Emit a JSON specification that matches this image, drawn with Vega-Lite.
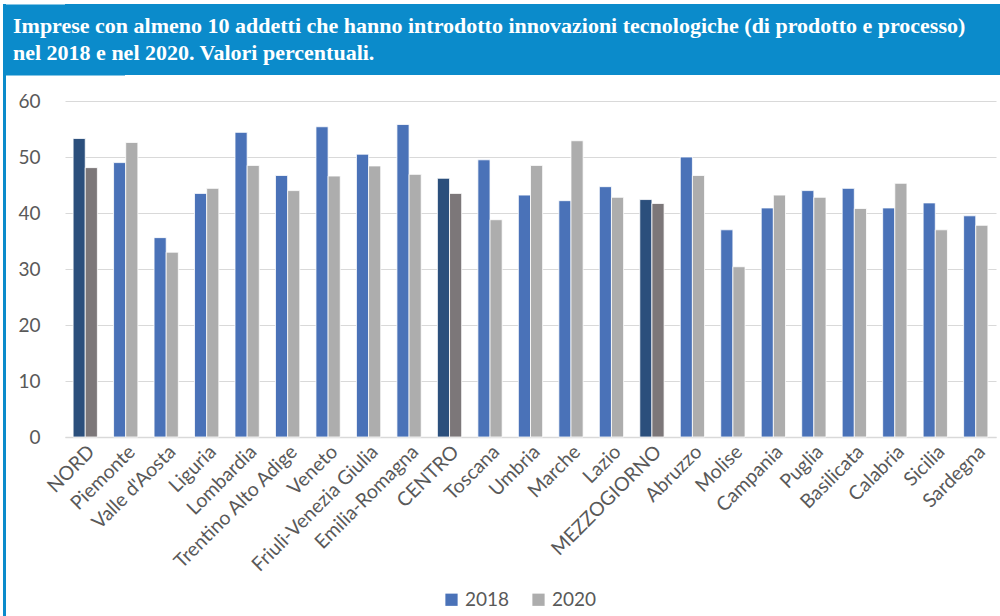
{
  "$schema": "https://vega.github.io/schema/vega-lite/v6.json",
  "padding": {"left": 3, "top": 4, "right": 0, "bottom": 0},
  "background": "white",
  "config": {
    "font": "Lato",
    "view": {"stroke": null},
    "concat": {"spacing": 0}
  },
  "datasets": {
    "titolo": [
      {"riga": 1, "testo": "Imprese con almeno 10 addetti che hanno introdotto innovazioni tecnologiche (di prodotto e processo)"},
      {"riga": 2, "testo": "nel 2018 e nel 2020. Valori percentuali."}
    ],
    "dati": [
      {"regione": "NORD", "tipo": "ripartizione", "anno": "2018", "valore": 53.3},
      {"regione": "NORD", "tipo": "ripartizione", "anno": "2020", "valore": 48.1},
      {"regione": "Piemonte", "tipo": "regione", "anno": "2018", "valore": 49.0},
      {"regione": "Piemonte", "tipo": "regione", "anno": "2020", "valore": 52.6},
      {"regione": "Valle d'Aosta", "tipo": "regione", "anno": "2018", "valore": 35.6},
      {"regione": "Valle d'Aosta", "tipo": "regione", "anno": "2020", "valore": 33.0},
      {"regione": "Liguria", "tipo": "regione", "anno": "2018", "valore": 43.5},
      {"regione": "Liguria", "tipo": "regione", "anno": "2020", "valore": 44.4},
      {"regione": "Lombardia", "tipo": "regione", "anno": "2018", "valore": 54.4},
      {"regione": "Lombardia", "tipo": "regione", "anno": "2020", "valore": 48.5},
      {"regione": "Trentino Alto Adige", "tipo": "regione", "anno": "2018", "valore": 46.7},
      {"regione": "Trentino Alto Adige", "tipo": "regione", "anno": "2020", "valore": 44.0},
      {"regione": "Veneto", "tipo": "regione", "anno": "2018", "valore": 55.4},
      {"regione": "Veneto", "tipo": "regione", "anno": "2020", "valore": 46.6},
      {"regione": "Friuli-Venezia Giulia", "tipo": "regione", "anno": "2018", "valore": 50.5},
      {"regione": "Friuli-Venezia Giulia", "tipo": "regione", "anno": "2020", "valore": 48.4},
      {"regione": "Emilia-Romagna", "tipo": "regione", "anno": "2018", "valore": 55.8},
      {"regione": "Emilia-Romagna", "tipo": "regione", "anno": "2020", "valore": 46.9},
      {"regione": "CENTRO", "tipo": "ripartizione", "anno": "2018", "valore": 46.2},
      {"regione": "CENTRO", "tipo": "ripartizione", "anno": "2020", "valore": 43.5},
      {"regione": "Toscana", "tipo": "regione", "anno": "2018", "valore": 49.5},
      {"regione": "Toscana", "tipo": "regione", "anno": "2020", "valore": 38.8},
      {"regione": "Umbria", "tipo": "regione", "anno": "2018", "valore": 43.2},
      {"regione": "Umbria", "tipo": "regione", "anno": "2020", "valore": 48.5},
      {"regione": "Marche", "tipo": "regione", "anno": "2018", "valore": 42.2},
      {"regione": "Marche", "tipo": "regione", "anno": "2020", "valore": 52.9},
      {"regione": "Lazio", "tipo": "regione", "anno": "2018", "valore": 44.7},
      {"regione": "Lazio", "tipo": "regione", "anno": "2020", "valore": 42.8},
      {"regione": "MEZZOGIORNO", "tipo": "ripartizione", "anno": "2018", "valore": 42.4},
      {"regione": "MEZZOGIORNO", "tipo": "ripartizione", "anno": "2020", "valore": 41.7},
      {"regione": "Abruzzo", "tipo": "regione", "anno": "2018", "valore": 50.0},
      {"regione": "Abruzzo", "tipo": "regione", "anno": "2020", "valore": 46.7},
      {"regione": "Molise", "tipo": "regione", "anno": "2018", "valore": 37.0},
      {"regione": "Molise", "tipo": "regione", "anno": "2020", "valore": 30.4},
      {"regione": "Campania", "tipo": "regione", "anno": "2018", "valore": 40.9},
      {"regione": "Campania", "tipo": "regione", "anno": "2020", "valore": 43.2},
      {"regione": "Puglia", "tipo": "regione", "anno": "2018", "valore": 44.0},
      {"regione": "Puglia", "tipo": "regione", "anno": "2020", "valore": 42.8},
      {"regione": "Basilicata", "tipo": "regione", "anno": "2018", "valore": 44.4},
      {"regione": "Basilicata", "tipo": "regione", "anno": "2020", "valore": 40.8},
      {"regione": "Calabria", "tipo": "regione", "anno": "2018", "valore": 40.9},
      {"regione": "Calabria", "tipo": "regione", "anno": "2020", "valore": 45.3},
      {"regione": "Sicilia", "tipo": "regione", "anno": "2018", "valore": 41.8},
      {"regione": "Sicilia", "tipo": "regione", "anno": "2020", "valore": 37.0},
      {"regione": "Sardegna", "tipo": "regione", "anno": "2018", "valore": 39.5},
      {"regione": "Sardegna", "tipo": "regione", "anno": "2020", "valore": 37.8}
    ]
  },
  "hconcat": [
    {
      "width": 3,
      "height": 612,
      "view": {"fill": "#0b8bcb", "stroke": null},
      "data": {"values": []},
      "mark": {"type": "rect"},
      "encoding": {}
    },
    {
      "vconcat": [
        {
          "width": 935,
          "height": 71,
          "view": {"fill": "#0b8bcb", "stroke": null},
          "data": {"name": "titolo"},
          "mark": {"type": "text", "align": "left", "baseline": "alphabetic", "dx": -52, "dy": 7, "font": "Liberation Serif", "fontWeight": "bold", "fontSize": 22, "color": "white"},
          "encoding": {
            "x": {"datum": 0, "type": "quantitative", "scale": {"domain": [0, 1]}, "axis": null},
            "y": {"field": "riga", "type": "ordinal", "scale": {"padding": 0.815},
                  "axis": {"title": null, "labels": false, "ticks": false, "grid": false, "domain": true, "domainColor": "#0b8bcb", "domainWidth": 119, "domainCap": "butt"}},
            "text": {"field": "testo"}
          }
        },
        {
          "width": 931,
          "height": 336,
          "data": {"name": "dati"},
          "mark": {"type": "bar", "stroke": "white", "strokeWidth": 0.8},
          "encoding": {
            "x": {
              "field": "regione", "type": "nominal", "sort": null,
              "scale": {"paddingInner": 0.4, "paddingOuter": 0.2},
              "axis": {"title": null, "labelAngle": -45, "labelFontSize": 19.5, "labelColor": "#595959", "ticks": false, "domainColor": "#d9d9d9", "domainWidth": 1.5, "labelPadding": 5}
            },
            "xOffset": {"field": "anno", "type": "nominal", "scale": {"paddingInner": 0, "paddingOuter": 0}},
            "y": {
              "field": "valore", "type": "quantitative",
              "scale": {"domain": [0, 60]},
              "axis": {"title": null, "values": [0, 10, 20, 30, 40, 50, 60], "labelFontSize": 19, "labelColor": "#595959", "ticks": false, "domain": false, "gridColor": "#d9d9d9", "gridWidth": 1, "labelPadding": 25, "minExtent": 59}
            },
            "color": {
              "condition": [
                {"test": "datum.tipo === 'ripartizione' && datum.anno === '2018'", "value": "#2b4f7c"},
                {"test": "datum.tipo === 'ripartizione' && datum.anno === '2020'", "value": "#7c7779"}
              ],
              "field": "anno", "type": "nominal",
              "scale": {"domain": ["2018", "2020"], "range": ["#4a72b8", "#adadad"]},
              "legend": {"title": null, "orient": "none", "legendX": 439, "legendY": 586, "direction": "horizontal", "symbolType": "square", "symbolSize": 150, "symbolStrokeWidth": 0, "labelFontSize": 19, "labelColor": "#595959", "columnPadding": 19}
            }
          }
        }
      ],
      "spacing": 17
    }
  ]
}
